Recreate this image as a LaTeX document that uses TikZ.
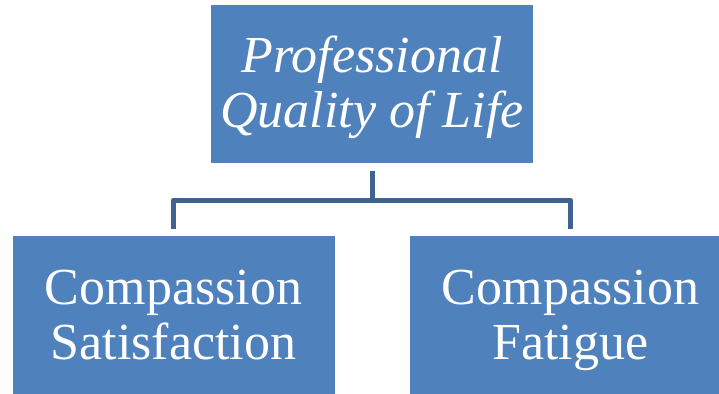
\documentclass[tikz,border=0pt]{standalone}
\usepackage{fontspec}
\setmainfont{Liberation Serif}
\usepackage{tikz}
\definecolor{boxfill}{RGB}{79,129,189}
\definecolor{connector}{RGB}{62,99,147}

\begin{document}
\begin{tikzpicture}[x=1pt, y=-1pt]
            \tikzstyle{box} = [rectangle, fill=boxfill, draw=white, line width=5pt,
                minimum width=327pt, minimum height=163pt, inner sep=0pt, outer sep=0pt]
            \tikzstyle{boxtext} = [text=white, align=center, inner sep=0pt, anchor=north,
                font=\fontsize{52}{55}\selectfont]
            \tikzstyle{conn} = [connector, line width=5pt, line join=round]
            \useasboundingbox (0, 0) rectangle (719, 393);
            \clip (0, 0) rectangle (719, 393);

            \node[box] (quality) at (372, 84) {};
            \node[box] (satisfaction) at (173.5, 315) {};
            \node[box] (fatigue) at (570.5, 315) {};

            \coordinate (bar) at (372, 200);
            \draw[conn, shorten <=5pt] (quality.south) -- (bar);
            \draw[conn, shorten <=5pt, shorten >=5pt] (satisfaction.north)
                -- (satisfaction.north |- bar) -- (fatigue.north |- bar) -- (fatigue.north);

            \node[boxtext, font=\fontsize{52}{55}\selectfont\itshape] (qualitytext)
                at (372, 36) {Professional\\Quality of Life};
            \node[boxtext] (satisfactiontext)
                at (173.5, 270) {Compassion\\Satisfaction};
            \node[boxtext] (fatiguetext)
                at (570.5, 270) {Compassion\\Fatigue};
        \end{tikzpicture}
\end{document}
